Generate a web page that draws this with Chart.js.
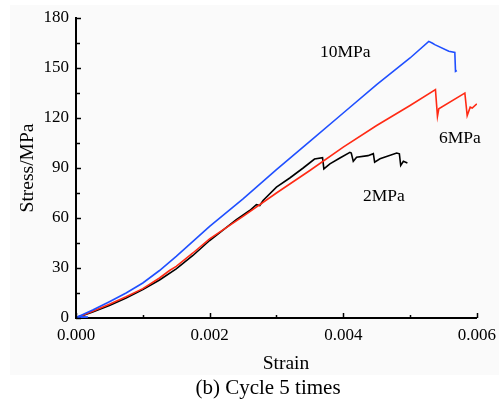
<!DOCTYPE html>
<html>
<head>
<meta charset="utf-8">
<script src="https://cdn.jsdelivr.net/npm/chart.js@4.4.1/dist/chart.umd.min.js"></script>
<style>
html,body{margin:0;padding:0;background:#fff;}
canvas{display:block;}
</style>
</head>
<body>
<canvas id="c" width="503" height="405"></canvas>
<script>
// ---- data ----
const strain10 = [0, 0.00018, 0.00003, 0.00025, 0.0005, 0.00075, 0.001, 0.00125, 0.0015, 0.00175, 0.002, 0.0025, 0.003, 0.0035, 0.004, 0.0045, 0.005, 0.00528, 0.00533, 0.00537, 0.00558, 0.00567, 0.00568, 0.0057];
const stress10 = [0, 0.6, 0.8, 4.8, 9.8, 15, 21, 28.5, 37, 46, 55, 71.5, 89, 106, 123, 140, 156, 166, 165, 164, 160, 159.3, 148, 148.5];

const strain6 = [0, 0.00025, 0.0005, 0.00075, 0.001, 0.00125, 0.0014, 0.0015, 0.00175, 0.002, 0.0025, 0.003, 0.0035, 0.004, 0.0045, 0.005, 0.00538, 0.00541, 0.00543, 0.0058, 0.00582, 0.005855, 0.0059, 0.00593, 0.006];
const stress6 = [0, 4, 8.3, 12.8, 17.6, 24, 28.5, 31, 39, 47.5, 61, 75, 88.5, 102.5, 115.5, 127.5, 137, 121, 125.5, 134.5, 135, 121.4, 126.5, 126, 128.5];

const strain2 = [0, 0.00025, 0.0005, 0.00075, 0.001, 0.00125, 0.0015, 0.00175, 0.002, 0.0024, 0.0026, 0.0027, 0.00275, 0.0028, 0.003, 0.0032, 0.0034, 0.00357, 0.00369, 0.00371, 0.0038, 0.00395, 0.0041, 0.00412, 0.00415, 0.0042, 0.00437, 0.00445, 0.00447, 0.00455, 0.0048, 0.00484, 0.00486, 0.0049, 0.00496];
const stress2 = [0, 3.6, 7.5, 12, 17, 22.8, 29.5, 37.5, 46.5, 59, 64.5, 68, 67.5, 70.5, 78.5, 84, 90, 95.4, 96.2, 89.5, 92.5, 96, 99.4, 99, 94, 96.5, 97.4, 98.6, 93.5, 95.5, 99, 98.5, 91.5, 94, 93];

const xTicks = [0, 0.002, 0.004, 0.006];
const yTicks = [0, 30, 60, 90, 120, 150, 180];
const seriesNames = ['10MPa', '6MPa', '2MPa'];

const pts = (xs, ys) => xs.map((x, i) => ({x: x, y: ys[i]}));

const FONT = "'Liberation Serif', 'Times New Roman', serif";

const decor = {
  id: 'decor',
  beforeDraw(chart) {
    const ctx = chart.ctx;
    ctx.save();
    ctx.fillStyle = '#ffffff';
    ctx.fillRect(0, 0, chart.width, chart.height);
    ctx.fillStyle = '#fafafa';
    ctx.fillRect(10, 5, 489, 370);
    ctx.restore();
  },
  afterDraw(chart) {
    const ctx = chart.ctx;
    const xs = chart.scales.x, ys = chart.scales.y;
    const a = chart.chartArea;
    ctx.save();
    ctx.strokeStyle = '#000';
    ctx.lineWidth = 1.5;
    // x ticks (inward)
    for (let v = 0; v <= 0.0060001; v += 0.001) {
      const major = Math.round(v / 0.001) % 2 === 0;
      const px = Math.round(xs.getPixelForValue(v)) + 0.5;
      ctx.beginPath();
      ctx.moveTo(px, a.bottom);
      ctx.lineTo(px, a.bottom - (major ? 5 : 3));
      ctx.stroke();
    }
    // y ticks (inward)
    for (let v = 0; v <= 180; v += 15) {
      const major = v % 30 === 0;
      const py = Math.round(ys.getPixelForValue(v)) + 0.5;
      ctx.beginPath();
      ctx.moveTo(a.left, py);
      ctx.lineTo(a.left + (major ? 5 : 4), py);
      ctx.stroke();
    }
    ctx.fillStyle = '#000';
    // series labels
    ctx.font = '17.5px ' + FONT;
    ctx.textAlign = 'left';
    ctx.textBaseline = 'alphabetic';
    ctx.fillText(seriesNames[0], 320, 57);
    ctx.fillText(seriesNames[1], 439, 143);
    ctx.fillText(seriesNames[2], 363, 200.5);
    // axis titles
    ctx.font = '19.5px ' + FONT;
    ctx.textAlign = 'center';
    ctx.fillText('Strain', 286, 369);
    ctx.save();
    ctx.translate(33, 168);
    ctx.rotate(-Math.PI / 2);
    ctx.fillText('Stress/MPa', 0, 0);
    ctx.restore();
    // caption
    ctx.font = '21px ' + FONT;
    ctx.fillText('(b) Cycle 5 times', 268, 394);
    ctx.restore();
  }
};

new Chart(document.getElementById('c'), {
  type: 'line',
  data: {
    datasets: [
      {label: seriesNames[0], data: pts(strain10, stress10), borderColor: '#1f4fff', borderWidth: 1.6, pointRadius: 0, fill: false, tension: 0},
      {label: seriesNames[1], data: pts(strain6, stress6), borderColor: '#ff2a14', borderWidth: 1.6, pointRadius: 0, fill: false, tension: 0},
      {label: seriesNames[2], data: pts(strain2, stress2), borderColor: '#000000', borderWidth: 1.6, pointRadius: 0, fill: false, tension: 0}
    ]
  },
  options: {
    responsive: false,
    animation: false,
    devicePixelRatio: 1,
    layout: {padding: {left: 0, right: 25, top: 18, bottom: 0}},
    plugins: {legend: {display: false}, tooltip: {enabled: false}},
    scales: {
      x: {
        type: 'linear', min: 0, max: 0.006,
        afterBuildTicks: s => { s.ticks = xTicks.map(v => ({value: v})); },
        afterFit: s => { s.height = 87; },
        ticks: {color: '#000', padding: 7, font: {family: FONT, size: 17}, callback: v => Number(v).toFixed(3), maxRotation: 0},
        grid: {display: true, drawOnChartArea: false, drawTicks: false},
        border: {display: true, color: '#000', width: 2}
      },
      y: {
        type: 'linear', min: 0, max: 180,
        afterBuildTicks: s => { s.ticks = yTicks.map(v => ({value: v})); },
        afterFit: s => { s.width = 76; },
        ticks: {color: '#000', padding: 7, font: {family: FONT, size: 17}},
        grid: {display: true, drawOnChartArea: false, drawTicks: false},
        border: {display: true, color: '#000', width: 2}
      }
    }
  },
  plugins: [decor]
});
</script>
</body>
</html>
